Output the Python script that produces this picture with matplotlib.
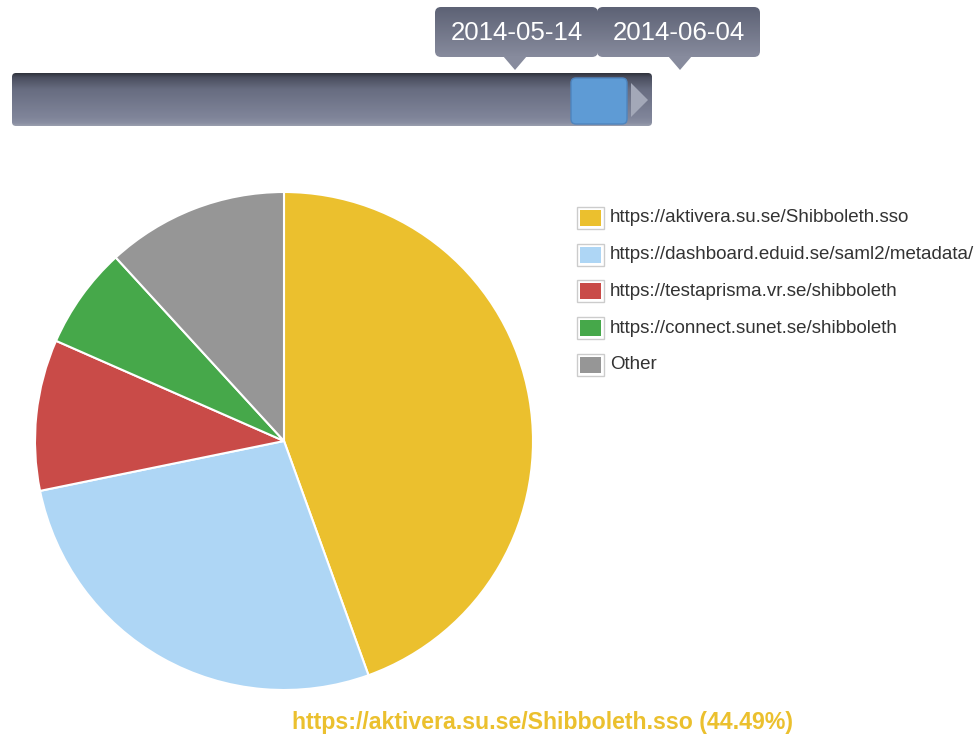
import numpy as np
import matplotlib
matplotlib.use("Agg")
import matplotlib.pyplot as plt
from matplotlib.patches import FancyBboxPatch, Polygon, Rectangle

labels = ["https://aktivera.su.se/Shibboleth.sso",
          "https://dashboard.eduid.se/saml2/metadata/",
          "https://testaprisma.vr.se/shibboleth",
          "https://connect.sunet.se/shibboleth",
          "Other"]
values = [44.49, 27.3, 9.8, 6.6, 11.81]
colors = ["#EBC02E", "#AED6F5", "#C94B48", "#46A84A", "#969696"]
date_labels = ["2014-05-14", "2014-06-04"]
title_text = "https://aktivera.su.se/Shibboleth.sso (44.49%)"

plt.rcParams['font.family'] = ['Liberation Sans', 'DejaVu Sans']

W, H = 979, 736
fig = plt.figure(figsize=(W/100, H/100), dpi=100)

ov = fig.add_axes([0, 0, 1, 1])
ov.set_xlim(0, W)
ov.set_ylim(H, 0)
ov.axis("off")

def gradient_box(ax, x0, y0, w, h, stops, r, z=1):
    patch = FancyBboxPatch((x0, y0), w, h, boxstyle=f"round,pad=0,rounding_size={r}",
                           linewidth=0, facecolor="none", zorder=z)
    ax.add_patch(patch)
    pos = np.array([s[0] for s in stops])
    cols = np.array([matplotlib.colors.to_rgb(s[1]) for s in stops])
    t = np.linspace(0, 1, 128)
    img = np.stack([np.interp(t, pos, cols[:, k]) for k in range(3)], axis=-1)[:, None, :]
    im = ax.imshow(img, extent=(x0, x0 + w, y0 + h, y0), aspect="auto", zorder=z,
                   interpolation="bilinear")
    im.set_clip_path(patch)
    return patch

# slider bar
gradient_box(ov, 12, 73, 640, 53,
             [(0, "#2f323c"), (0.08, "#4a4e5e"), (0.3, "#676c80"),
              (0.85, "#80859a"), (0.95, "#8a8fa2"), (1.0, "#9a9fae")], 4, z=1)
# handle
hp = FancyBboxPatch((571, 78), 56, 46, boxstyle="round,pad=0,rounding_size=5",
                    facecolor="#5e9bd5", edgecolor="#4e85bf", linewidth=1, zorder=3)
ov.add_patch(hp)
ov.add_patch(Polygon([(631, 83), (631, 117), (648, 100)], closed=True,
                     facecolor="#a3a8b8", edgecolor="none", zorder=3))

# tooltips
for (x0, px), lab in zip([(435, 515), (597, 680)], date_labels):
    gradient_box(ov, x0, 7, 163, 50, [(0, "#5d6275"), (1, "#878b9d")], 6, z=4)
    ov.add_patch(Polygon([(px - 12, 56), (px + 12, 56), (px, 70)], closed=True,
                         facecolor="#878b9d", edgecolor="none", zorder=4))
    ov.text(x0 + 81.5, 33, lab, color="white", fontsize=18.6, ha="center",
            va="center", zorder=5)

# pie
cx, cy, R = 284, 441, 249
pax = fig.add_axes([(cx - R)/W, (H - cy - R)/H, 2*R/W, 2*R/H])
pax.pie(values, colors=colors, startangle=90, counterclock=False, radius=1,
        wedgeprops=dict(edgecolor="white", linewidth=1.5))
pax.set_xlim(-1, 1)
pax.set_ylim(-1, 1)
pax.set_aspect("auto")
pax.axis("off")

# legend
for i, (lab, col) in enumerate(zip(labels, colors)):
    y = 218 + i * 36.7
    ov.add_patch(Rectangle((577, y - 11), 27, 22, facecolor="white",
                           edgecolor="#cccccc", linewidth=1, zorder=2))
    ov.add_patch(Rectangle((580, y - 8), 21, 16, facecolor=col,
                           edgecolor="none", zorder=3))
    ov.text(610, y, lab, fontsize=13.5, color="#333333", va="center", ha="left")

# bottom title
ov.text(543, 722, title_text, fontsize=16.7, fontweight="bold", color="#EBC02E",
        ha="center", va="center")

fig.savefig("out.png", dpi=100)
